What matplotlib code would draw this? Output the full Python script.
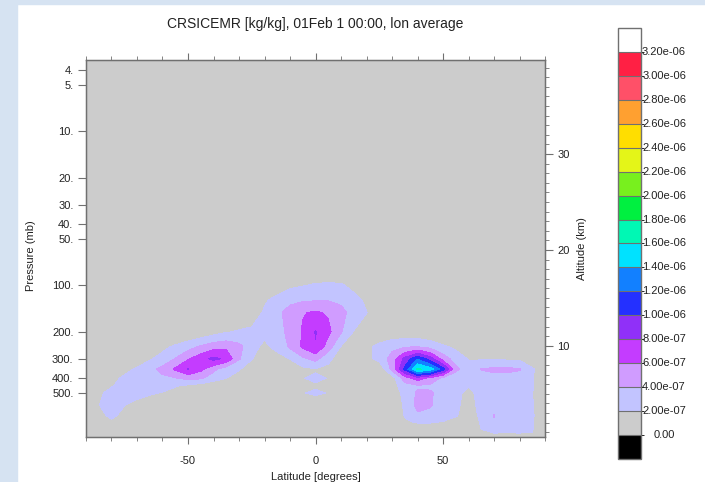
import numpy as np
import matplotlib.pyplot as plt
from matplotlib.colors import ListedColormap, BoundaryNorm
from matplotlib.cm import ScalarMappable
from matplotlib.patches import Rectangle
from matplotlib.ticker import MultipleLocator, NullLocator

plt.rcParams['font.family'] = ['Liberation Sans', 'DejaVu Sans']
plt.rcParams['axes.unicode_minus'] = False

# grid of the lon-averaged field
lats = [-90, -85, -80, -75, -70, -65, -60, -55, -50, -45, -40, -35, -30, -25, -20, -15, -10, -5, 0,
        5, 10, 15, 20, 25, 30, 35, 40, 45, 50, 55, 60, 65, 70, 75, 80, 85, 90]
plevs = [70, 100, 125, 150, 200, 250, 300, 350, 400, 450, 500, 600, 700, 775, 850, 925, 1000]

# CRSICEMR in units of 1e-7 kg/kg, one row per pressure level
crsicemr_e7 = [
    [0] * 37,
    [0] * 14 + [0.8, 1.2, 1.6, 1.9, 2.2, 2.3, 2.2, 1.5, 0.6] + [0] * 14,
    [0] * 13 + [0.5, 1.8, 2.5, 3.5, 3.8, 3.9, 3.9, 3.6, 2.6, 1.7, 0.5] + [0] * 13,
    [0] * 12 + [0.5, 1.2, 2.2, 3.5, 4.8, 5.9, 6.2, 5.8, 4.6, 3.2, 2.05, 0.8] + [0] * 13,
    [0] * 8 + [0.2, 0.5, 1.2, 1.8, 2.2, 2.3, 2.4, 3.3, 4.5, 6.2, 8.1, 6.5, 4.2, 1.9, 1.0, 0.3,
               0.5, 0.6, 0.6, 0.3] + [0] * 9,
    [0] * 5 + [0.5, 1.5, 2.3, 3.2, 4.3, 5.2, 5.5, 4.6, 2.6, 1.6, 2.6, 4.3, 6.3, 7.9, 5.0, 1.9,
               0.8, 1.5, 2.6, 3.5, 3.8, 3.9, 3.3, 2.3, 1.6, 1.0, 0.6, 0.3, 0.2, 0.1] + [0, 0],
    [0] * 3 + [0.3, 1.0, 1.8, 2.7, 4.1, 5.8, 7.2, 8.5, 7.6, 4.2, 2.1, 0.8, 1.2, 2.05, 3.6, 4.6,
               2.5, 0.9, 0.6, 1.4, 2.6, 4.8, 8.6, 11.8, 9.0, 5.2, 3.0, 1.9, 1.8, 1.8, 1.7, 1.6,
               1.0, 0.5],
    [0] * 2 + [0.5, 1.5, 2.2, 3.3, 4.6, 6.3, 8.05, 6.5, 4.5, 2.8, 2.2, 0.8, 0.3, 0.5, 1.0, 1.5,
               1.9, 1.5, 0.6, 0.3, 0.3, 0.3, 4.6, 10.5, 16.4, 15.0, 10.8, 4.6, 2.5, 4.1, 4.4,
               4.4, 4.2, 2.2, 1.0],
    [0] + [0.5, 1.5, 2.3, 2.8, 3.2, 3.6, 3.9, 4.6, 4.3, 3.0, 2.05, 1.0, 0.3, 0.2, 0.3, 0.6,
           1.97, 2.15, 1.97, 0.6, 0.2, 0.2, 0.3, 1.0, 5.0, 7.0, 5.5, 3.5, 2.6, 2.3, 3.0, 3.4,
           3.4, 3.0, 2.1, 1.0],
    [0.3, 1.2, 1.9, 2.5, 2.8, 2.7, 2.6, 2.2, 1.5, 1.0, 0.5, 0.3, 0.2, 0.1, 0.1, 0.2, 0.5, 1.8,
     1.9, 1.8, 0.5, 0.1, 0.1, 0.2, 1.0, 3.2, 3.7, 3.6, 3.0, 2.5, 2.05, 2.6, 2.7, 2.6, 2.4,
     2.1, 1.0],
    [0.5, 1.7, 2.5, 2.6, 2.5, 2.2, 1.9, 1.0, 0.5, 0.3, 0.2, 0.1, 0.1, 0.1, 0.1, 0.2, 0.5, 1.96,
     2.12, 1.96, 0.5, 0.1, 0.1, 0.2, 0.8, 2.6, 4.3, 4.3, 3.0, 2.3, 1.7, 2.4, 2.6, 2.5, 2.3,
     2.05, 0.8],
    [0.6, 1.95, 2.7, 2.05, 1.5, 1.0, 0.6, 0.3, 0.2, 0.1, 0.1, 0.1, 0.1, 0.1, 0.1, 0.2, 0.4, 1.3,
     1.5, 1.3, 0.4, 0.1, 0.1, 0.1, 0.5, 2.3, 4.5, 4.2, 2.8, 2.2, 1.6, 2.3, 2.5, 2.4, 2.3,
     2.1, 0.8],
    [0.5, 1.6, 2.3, 1.6, 0.8, 0.5, 0.3, 0.2, 0.1, 0.1, 0.1, 0.1, 0.1, 0.1, 0.1, 0.1, 0.2, 0.6,
     0.8, 0.6, 0.2, 0.1, 0.1, 0.1, 0.4, 2.1, 3.7, 3.3, 2.6, 2.1, 1.5, 2.2, 4.1, 2.4, 2.3,
     2.2, 0.8],
    [0.3, 1.0, 1.7, 1.0, 0.5, 0.3, 0.2, 0.1, 0.1, 0.1, 0.1, 0.1, 0.1, 0.1, 0.1, 0.1, 0.1, 0.3,
     0.4, 0.3, 0.1, 0.1, 0.1, 0.1, 0.3, 1.8, 2.1, 2.1, 1.9, 1.6, 1.3, 2.1, 3.8, 2.3, 2.2,
     2.1, 0.7],
    [0.2, 0.6, 1.0, 0.6, 0.3, 0.2, 0.1, 0.1, 0.1, 0.1, 0.1, 0.1, 0.1, 0.1, 0.1, 0.1, 0.1, 0.2,
     0.2, 0.2, 0.1, 0.1, 0.1, 0.1, 0.2, 1.0, 1.2, 1.2, 1.0, 0.9, 1.0, 2.05, 2.4, 2.3, 2.2,
     2.1, 0.7],
    [0.1, 0.3, 0.5, 0.3, 0.2, 0.1, 0.1, 0.1, 0.1, 0.1, 0.1, 0.1, 0.1, 0.1, 0.1, 0.1, 0.1, 0.1,
     0.1, 0.1, 0.1, 0.1, 0.1, 0.1, 0.1, 0.5, 0.6, 0.6, 0.5, 0.5, 0.5, 1.6, 1.9, 1.9, 1.95,
     1.95, 0.6],
    [0] * 30 + [0.3, 1.0, 1.2, 1.3, 1.5, 1.6, 0.5],
]

levels = [0.0, 2.0e-7, 4.0e-7, 6.0e-7, 8.0e-7, 1.0e-6, 1.2e-6, 1.4e-6, 1.6e-6,
          1.8e-6, 2.0e-6, 2.2e-6, 2.4e-6, 2.6e-6, 2.8e-6, 3.0e-6, 3.2e-6]
level_labels = ["0.00", "2.00e-07", "4.00e-07", "6.00e-07", "8.00e-07", "1.00e-06",
                "1.20e-06", "1.40e-06", "1.60e-06", "1.80e-06", "2.00e-06", "2.20e-06",
                "2.40e-06", "2.60e-06", "2.80e-06", "3.00e-06", "3.20e-06"]
# the 16 bands between the levels
band_colors = ["#cccccc", "#c2c4ff", "#d09cff", "#c43cff", "#9030f8", "#2430ff",
               "#1280ff", "#00e2ff", "#00f8b4", "#00f040", "#78f01e", "#e4f518", "#ffde00",
               "#ffa030", "#ff5068", "#ff2044"]
under_color = "#000000"
over_color = "#ffffff"

p_ticks = [4, 5, 10, 20, 30, 40, 50, 100, 200, 300, 400, 500]
p_labels = ["4.", "5.", "10.", "20.", "30.", "40.", "50.", "100.", "200.", "300.", "400.", "500."]
lat_ticks = [-50, 0, 50]
alt_ticks = [10, 20, 30]

field = np.array(crsicemr_e7) * 1e-7

cmap = ListedColormap(band_colors)
cmap.set_under(under_color)
cmap.set_over(over_color)
norm = BoundaryNorm(levels, cmap.N)

fig = plt.figure(figsize=(7.05, 4.82), dpi=100)
fig.patches.append(Rectangle((0, 0), 17 / 705, 1, transform=fig.transFigure,
                             color="#d6e3f2", zorder=-1))
fig.patches.append(Rectangle((0, 1 - 4 / 482), 1, 4 / 482, transform=fig.transFigure,
                             color="#d6e3f2", zorder=-1))

ax = fig.add_axes([86 / 705, 1 - 437 / 482, 459 / 705, 377 / 482])
ax.set_facecolor(band_colors[0])
cf = ax.contourf(lats, plevs, field, levels=levels, cmap=cmap, norm=norm)

edge = "#707070"
ax.set_yscale("log")
ax.set_ylim(965, 3.45)
ax.set_xlim(-90, 90)
ax.set_yticks(p_ticks)
ax.set_yticklabels(p_labels)
ax.yaxis.set_minor_locator(NullLocator())
ax.set_xticks(lat_ticks)
ax.set_xticklabels([str(v) for v in lat_ticks])
ax.xaxis.set_minor_locator(MultipleLocator(10))
ax.tick_params(axis="x", which="both", top=True, direction="out", color=edge,
               labelsize=8, labelcolor="#222222", pad=9)
ax.tick_params(axis="x", which="major", length=5)
ax.tick_params(axis="x", which="minor", length=3)
ax.tick_params(axis="y", which="major", length=6, direction="out", color=edge,
               labelsize=8, labelcolor="#222222", pad=3, right=False)
for s in ax.spines.values():
    s.set_color(edge)
    s.set_linewidth(1.0)

ax.set_xlabel("Latitude [degrees]", fontsize=8, color="#222222")
ax.xaxis.set_label_coords(0.5, -0.092)
ax.set_ylabel("Pressure (mb)", fontsize=8, color="#222222")
ax.yaxis.set_label_coords(-0.11, 0.48)

ax2 = ax.twinx()
ax2.set_ylim(0.5, 39.8)
ax2.set_yticks(alt_ticks)
ax2.yaxis.set_minor_locator(MultipleLocator(1))
ax2.tick_params(axis="y", which="both", direction="out", color=edge, labelsize=8,
                labelcolor="#222222", pad=3)
ax2.tick_params(axis="y", which="major", length=6)
ax2.tick_params(axis="y", which="minor", length=3)
for s in ax2.spines.values():
    s.set_color(edge)
ax2.set_ylabel("Altitude (km)", fontsize=8, color="#222222")
ax2.yaxis.set_label_coords(1.07, 0.5)

fig.text(315.5 / 705, 1 - 24 / 482, "CRSICEMR [kg/kg], 01Feb 1 00:00, lon average",
         ha="center", va="center", fontsize=10, color="#222222")

cax = fig.add_axes([618 / 705, 1 - 459 / 482, 23 / 705, 431 / 482])
sm = ScalarMappable(norm=norm, cmap=cmap)
cb = fig.colorbar(sm, cax=cax, extend="both", extendrect=True, extendfrac="auto",
                  drawedges=True)
cb.set_ticks([])
cb.outline.set_edgecolor(edge)
cb.outline.set_linewidth(1.0)
cb.dividers.set_color(edge)
cb.dividers.set_linewidth(0.8)
for v, lab in zip(levels, level_labels):
    cax.text(2.0, v, lab, transform=cax.get_yaxis_transform(), ha="center", va="center",
             fontsize=8, color="#222222")

fig.savefig("out.png", dpi=100, facecolor="white")
